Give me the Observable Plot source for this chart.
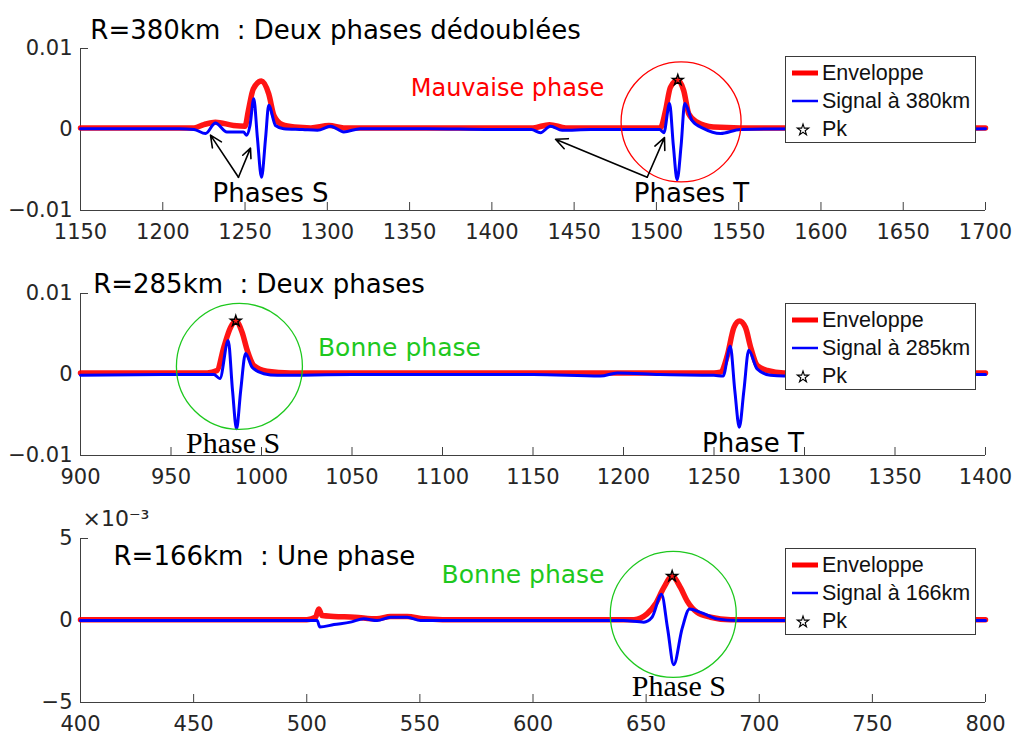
<!DOCTYPE html>
<html>
<head>
<meta charset="utf-8">
<script src="https://cdn.jsdelivr.net/npm/d3@7"></script>
<script src="https://cdn.jsdelivr.net/npm/@observablehq/plot@0.6"></script>
<style>
  html, body { margin: 0; padding: 0; background: #fff; }
  #wrap { position: relative; width: 1019px; height: 738px; overflow: hidden; }
  #wrap svg.plot { display: block; }
  .legend { position: absolute; width: 191px; height: 87px; background: #fff; border: 1px solid #3a3a3a; box-sizing: border-box;
            font-family: "Liberation Sans", Arial, sans-serif; font-size: 21.5px; color: #111; }
  .legend .row { position: absolute; left: 0; height: 28px; line-height: 28px; white-space: nowrap; }
  .legend .row svg { position: absolute; left: 0; top: 0; }
  .legend .row span { position: absolute; left: 36px; top: 0; }
</style>
</head>
<body>
<div id="wrap"></div>
<script>
// ---------------- DATA ----------------
// Panel 1 : R = 380 km
const sig380T = [1150,1180,1210,1219,1226,1232,1239,1249,1251,1253,1255.3,1257.5,1260,1262.5,1264.4,1268.5,1273.5,1285,1294,1302,1310,1320,1360,1400,1424,1429.5,1435.6,1442.7,1460,1490,1502,1504.5,1508,1510.3,1512.6,1515,1517.2,1521.7,1528.8,1538.9,1551,1600,1650,1700];
const sig380V = [0.0001,0.0001,0.0001,0.0000,-0.0005,0.0008,-0.0003,-0.0003,-0.0007,0.0005,0.0038,-0.001,-0.0059,-0.001,0.003,0.0005,0.0001,0.0000,-0.0001,0.0004,-0.0003,0.0001,0.0001,0.0000,0.0000,-0.0004,0.0004,-0.0001,0.0000,0.0000,0.0000,-0.0004,0.0032,-0.002,-0.0062,-0.002,0.0032,0.0011,0.0001,-0.0005,0.0000,0.0001,0.0000,0.0001];
const env380T = [1150,1200,1219,1225,1232,1243,1250,1252,1255,1260,1264.4,1267.6,1272.6,1280,1290,1301,1310,1400,1425,1435,1445,1502.4,1505.5,1508.5,1513,1516.6,1519.7,1524.7,1534.6,1551,1700];
const env380V = [0.0002,0.0002,0.0002,0.0006,0.0009,0.0005,0.0004,0.0023,0.005,0.006,0.0044,0.0017,0.0006,0.0003,0.0002,0.0005,0.0002,0.0002,0.0002,0.0006,0.0002,0.0002,0.0023,0.0052,0.0061,0.0048,0.0019,0.0009,0.0003,0.0002,0.0002];
const pk380 = [{t: 1513, v: 0.0061}];

// Panel 2 : R = 285 km
const sig285T = [900,950,973.7,977,981.6,984,986.2,988.5,991.2,994.8,1001.3,1008.7,1050,1100,1150,1187.3,1196.5,1220,1249.9,1255,1259,1261.5,1264,1266.5,1269.2,1273.8,1281.2,1288.6,1300,1400];
const sig285V = [-0.0001,0,0,-0.0005,0.0042,-0.002,-0.0067,-0.002,0.0026,0.0009,0.0001,-0.0001,0,0,0,-0.0002,0.0002,0,-0.0001,-0.0002,0.0035,-0.002,-0.0065,-0.002,0.003,0.0007,-0.0001,-0.0002,0,0];
const env285T = [900,970,975.5,979.2,982.9,985.8,989.3,992.1,995.8,1003,1015.9,1250,1253.6,1257.3,1261,1264.1,1267.4,1270.2,1273.9,1279.4,1288.6,1400];
const env285V = [0.0002,0.0002,0.0005,0.0034,0.0058,0.0066,0.0052,0.003,0.0011,0.0004,0.0002,0.0002,0.0003,0.0023,0.0058,0.0066,0.0058,0.0034,0.0011,0.0005,0.0002,0.0002];
const pk285 = [{t: 985.8, v: 0.0066}];

// Panel 3 : R = 166 km
const sig166T = [400,504.6,505.8,512,519.3,525.2,531.1,537,544.4,550.3,557.9,600,640,649,652.6,656.8,659.5,662.2,665.9,669.2,674,681.4,690,800];
const sig166V = [0,0,-0.0004,-0.00025,-0.0001,0.0001,0,0.0002,0.0002,0,0,0,0,-0.0001,0.0002,0.0016,-0.0005,-0.0027,-0.0005,0.0007,0.0005,0.0001,0,0];
const env166T = [400,500,503.9,505.3,506.8,512,521.2,531,537,544.4,551.7,560,644.6,650.4,654.1,657.8,661.5,665.2,668.1,672.5,678.5,687.3,800];
const env166V = [0.00005,0.00005,0.0002,0.0007,0.0003,0.00025,0.0002,0.0001,0.00025,0.00025,0.0001,0.00005,0.00005,0.0004,0.001,0.002,0.0027,0.002,0.0012,0.0005,0.0002,0.00005,0.00005];
const pk166 = [{t: 661.5, v: 0.0027}];

// Axes ticks
const xTicks380 = [1150,1200,1250,1300,1350,1400,1450,1500,1550,1600,1650,1700];
const xTicks285 = [900,950,1000,1050,1100,1150,1200,1250,1300,1350,1400];
const xTicks166 = [400,450,500,550,600,650,700,750,800];
const yTicks380 = [-0.01, 0, 0.01];
const yTicks285 = [-0.01, 0, 0.01];
const yTicks166 = [-0.005, 0, 0.005];

// Titles and annotations (data coordinates)
const titles = [
  {t: 1156, v: 0.0122, text: "R=380km\u00a0\u00a0: Deux phases dédoublées"},
  {t: 907, v: 0.0111, text: "R=285km\u00a0\u00a0: Deux phases"},
  {t: 414.6, v: 0.0039, text: "R=166km\u00a0\u00a0: Une phase"}
];
const notes380 = [
  {t: 1409.5, v: 0.0051, text: "Mauvaise phase", color: "#ff0000", serif: false, size: 24},
  {t: 1265.5, v: -0.0079, text: "Phases S", color: "#000", serif: false, size: 26},
  {t: 1521.3, v: -0.0079, text: "Phases T", color: "#000", serif: false, size: 26}
];
const notes285 = [
  {t: 1076.2, v: 0.0033, text: "Bonne phase", color: "#1ec81e", serif: false, size: 25},
  {t: 984.3, v: -0.0085, text: "Phase S", color: "#000", serif: true, size: 30},
  {t: 1271.5, v: -0.0086, text: "Phase T", color: "#000", serif: false, size: 26}
];
const notes166 = [
  {t: 595.6, v: 0.0028, text: "Bonne phase", color: "#1ec81e", serif: false, size: 25},
  {t: 664.5, v: -0.0040, text: "Phase S", color: "#000", serif: true, size: 30}
];
const circles380 = [{t: 1515, v: 0.00093, color: "#ff0000"}];
const circles285 = [{t: 987.8, v: 0.0010, color: "#1ec81e"}];
const circles166 = [{t: 662, v: 0.00037, color: "#1ec81e"}];
const arrows380 = [
  {t1: 1246, v1: -0.0059, t2: 1229, v2: -0.0007},
  {t1: 1246, v1: -0.0059, t2: 1253.3, v2: -0.0023},
  {t1: 1494.4, v1: -0.0059, t2: 1438.7, v2: -0.0012},
  {t1: 1494.4, v1: -0.0059, t2: 1504.9, v2: -0.0010}
];
const exponent166 = [{t: 400.9, v: 0.0062, text: "×10⁻³"}];

const legendLabels = [
  ["Enveloppe", "Signal à 380km", "Pk"],
  ["Enveloppe", "Signal à 285km", "Pk"],
  ["Enveloppe", "Signal à 166km", "Pk"]
];

// ---------------- DRAW ----------------
const AX = "#404040";
const SANS = "'DejaVu Sans', sans-serif";
const SERIF = "'Liberation Serif', 'DejaVu Serif', serif";

function panel(o) {
  const marks = [
    Plot.ruleY([o.yDomain[0]], {stroke: AX, strokeWidth: 1}),
    Plot.ruleX([o.xDomain[0]], {stroke: AX, strokeWidth: 1}),
    Plot.axisX({ticks: o.xTicks, tickSize: -8, tickPadding: 22, stroke: AX, fill: "#262626", fontSize: 21, label: null, tickFormat: d3.format("d")}),
    Plot.axisY({ticks: o.yTicks, tickSize: -8, tickPadding: 16, stroke: AX, fill: "#262626", fontSize: 21, label: null, tickFormat: o.yFormat}),
    Plot.line(o.envV, {x: o.envT, y: o.envV, stroke: "#ff0000", strokeWidth: 5.5, curve: "monotone-x", strokeOpacity: 0.92}),
    Plot.line(o.sigV, {x: o.sigT, y: o.sigV, stroke: "#0000ff", strokeWidth: 3, curve: "monotone-x"}),
    Plot.dot(o.circles, {x: "t", y: "v", r: o.circleR, stroke: "color", fill: "none", strokeWidth: 1.3})
  ];
  marks.push(Plot.dot(o.pk, {x: "t", y: "v", symbol: "star", r: 3.4, stroke: "#000", strokeWidth: 1.4, fill: "none"}));
  if (o.arrows) marks.push(Plot.arrow(o.arrows, {x1: "t1", y1: "v1", x2: "t2", y2: "v2", stroke: "#000", strokeWidth: 1.6, headLength: 12, headAngle: 50}));
  marks.push(Plot.text([o.title], {x: "t", y: "v", text: "text", textAnchor: "start", fontSize: 26, fontFamily: SANS, fill: "#000"}));
  for (const n of o.notes) {
    marks.push(Plot.text([n], {x: "t", y: "v", text: "text", fill: n.color, fontSize: n.size, fontFamily: n.serif ? SERIF : SANS}));
  }
  if (o.exponent) marks.push(Plot.text(o.exponent, {x: "t", y: "v", text: "text", textAnchor: "start", fontSize: 22, fontFamily: SANS, fill: "#262626"}));
  return Plot.plot({
    width: 1019, height: 246,
    marginLeft: 80, marginRight: 34, marginTop: o.mt, marginBottom: o.mb,
    x: {domain: o.xDomain},
    y: {domain: o.yDomain},
    style: {fontFamily: SANS, background: "transparent", overflow: "visible", color: "#262626"},
    marks
  });
}

const fmt2 = d => d === 0 ? "0" : d3.format(".2f")(d);
const wrap = document.getElementById("wrap");
const cfgs = [
  {xDomain: [1150, 1700], yDomain: [-0.01, 0.01], xTicks: xTicks380, yTicks: yTicks380, yFormat: fmt2,
   mt: 48, mb: 36, envT: env380T, envV: env380V, sigT: sig380T, sigV: sig380V, pk: pk380, circles: circles380, circleR: 60,
   arrows: arrows380, title: titles[0], notes: notes380, legendTop: 56},
  {xDomain: [900, 1400], yDomain: [-0.01, 0.01], xTicks: xTicks285, yTicks: yTicks285, yFormat: fmt2,
   mt: 47, mb: 37, envT: env285T, envV: env285V, sigT: sig285T, sigV: sig285V, pk: pk285, circles: circles285, circleR: 63,
   title: titles[1], notes: notes285, legendTop: 303},
  {xDomain: [400, 800], yDomain: [-0.005, 0.005], xTicks: xTicks166, yTicks: yTicks166, yFormat: d => d3.format("d")(Math.round(d * 1000)),
   mt: 46, mb: 36, envT: env166T, envV: env166V, sigT: sig166T, sigV: sig166V, pk: pk166, circles: circles166, circleR: 63,
   title: titles[2], notes: notes166, exponent: exponent166, legendTop: 548}
];

cfgs.forEach(c => {
  const svg = panel(c);
  svg.classList.add("plot");
  wrap.appendChild(svg);
});

// Legends (overlay boxes)
const starPath = d3.symbol(d3.symbolStar, 40)();
cfgs.forEach((c, i) => {
  const lg = document.createElement("div");
  lg.className = "legend";
  lg.style.left = "785px";
  lg.style.top = c.legendTop + "px";
  const labels = legendLabels[i];
  const swatches = [
    `<svg width="34" height="28"><line x1="6" x2="32" y1="14" y2="14" stroke="#ff0000" stroke-width="5"/></svg>`,
    `<svg width="34" height="28"><line x1="6" x2="32" y1="14" y2="14" stroke="#0000ff" stroke-width="2.5"/></svg>`,
    `<svg width="34" height="28"><path transform="translate(17,15)" d="${starPath}" fill="none" stroke="#000" stroke-width="1.1"/></svg>`
  ];
  const tops = [2, 30, 58];
  lg.innerHTML = labels.map((l, k) => `<div class="row" style="top:${tops[k]}px">${swatches[k]}<span>${l}</span></div>`).join("");
  wrap.appendChild(lg);
});
</script>
</body>
</html>
